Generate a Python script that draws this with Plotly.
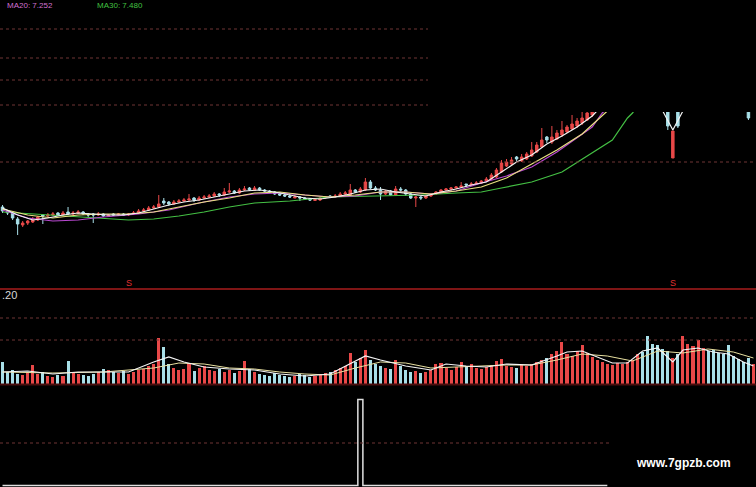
import plotly.graph_objects as go

# ---------------- data ----------------
opens = [9.3,8.9,8.7,8.1,7.5,7.7,7.8,8.0,8.5,8.4,8.5,8.7,8.5,8.8,8.6,8.7,8.8,8.6,8.6,8.5,
         8.6,8.4,8.6,8.5,8.6,8.5,8.6,8.7,8.9,9.0,9.2,9.3,9.9,9.8,9.6,9.8,9.9,10.0,10.2,10.0,
         10.2,10.3,10.4,10.6,10.5,10.8,10.9,10.7,11.0,11.2,11.0,11.2,11.0,10.9,10.8,10.6,10.5,10.4,10.2,10.3,
         10.2,10.1,9.95,10.0,10.2,10.4,10.3,10.4,10.6,10.5,11.0,10.8,11.0,11.8,11.2,11.0,10.6,10.9,10.5,11.1,
         11.0,10.6,10.2,10.3,10.2,10.4,10.6,10.8,11.0,11.1,11.2,11.3,11.6,11.5,11.6,11.7,11.9,12.1,12.3,12.8,
         13.4,13.6,14.3,13.9,14.1,14.4,14.8,15.3,16.3,15.8,16.1,16.5,16.8,17.1,17.4,17.7,18.0,18.5,19.2,19.8,
         20.5,21.2,21.8,22.5,23.0,23.6,24.0,24.5,24.2,23.5,22.0,20.5,19.2,14.2,19.5,19.8,20.6,21.0,21.4,22.0,
         22.3,22.0,21.6,21.2,20.8,20.4,20.0,19.6,19.3,19.0]
highs = [9.5,9.0,8.8,8.3,7.9,8.0,8.3,8.4,8.6,8.7,8.8,8.8,8.9,9.3,8.9,9.0,8.9,8.7,8.7,8.8,
         8.7,8.6,8.7,8.7,8.7,8.7,8.9,9.1,9.2,9.4,9.5,10.5,10.2,9.9,10.0,10.1,10.2,10.6,10.3,10.4,
         10.5,10.6,10.8,10.7,11.2,11.7,11.0,11.2,11.4,11.3,11.4,11.3,11.1,11.0,10.9,10.7,10.7,10.6,10.5,10.4,
         10.3,10.2,10.2,10.3,10.4,10.5,10.6,10.8,10.9,11.6,11.1,11.3,12.2,12.0,11.4,11.3,11.0,11.0,11.4,11.3,
         11.1,10.7,10.4,10.4,10.5,10.7,10.9,11.1,11.2,11.3,11.4,11.8,11.6,11.8,11.9,12.0,12.3,12.7,13.2,14.0,
         14.1,14.3,14.4,14.6,14.8,15.8,15.8,17.2,16.4,17.4,17.0,17.9,17.5,18.5,18.2,19.0,19.0,19.5,20.0,20.8,
         21.5,22.0,22.8,23.3,23.9,24.4,24.9,24.8,24.5,23.7,22.2,20.7,19.3,16.9,19.6,20.8,21.3,21.6,22.2,22.6,
         22.5,22.2,21.9,21.5,21.1,20.7,20.3,19.9,19.5,19.8]
lows = [8.7,8.5,8.0,6.5,7.3,7.5,7.7,7.9,7.6,8.3,8.4,8.4,8.4,8.5,8.5,8.6,8.5,8.3,7.7,8.4,
        8.3,8.3,8.4,8.4,8.4,8.4,8.5,8.6,8.8,8.9,9.1,9.2,9.5,9.4,9.5,9.7,9.8,9.9,9.8,9.9,
        10.1,10.2,10.3,10.3,10.4,10.7,10.6,10.6,10.9,10.9,10.9,10.9,10.8,10.7,10.5,10.4,10.3,10.2,10.2,9.9,
        10.0,9.9,9.9,9.9,10.1,10.2,10.2,10.3,10.5,10.4,10.7,10.7,10.9,11.1,10.9,10.0,10.5,10.4,10.4,10.8,
        10.4,10.1,9.3,10.0,10.1,10.3,10.5,10.7,10.9,10.9,11.1,11.2,11.3,11.4,11.5,11.6,11.8,12.0,12.2,12.7,
        13.3,13.5,13.8,13.8,14.0,14.3,14.7,15.2,15.7,15.6,16.0,16.3,16.7,17.0,17.2,17.5,17.9,18.3,19.0,19.6,
        20.3,20.9,21.5,22.2,22.7,23.2,23.7,23.9,23.2,21.8,20.3,19.0,17.0,14.2,17.2,19.6,20.4,20.7,21.2,21.7,
        21.8,21.4,21.0,20.6,20.2,19.8,19.4,19.1,18.0,18.9]
closes = [8.9,8.7,8.2,7.6,7.7,7.9,8.0,8.3,8.4,8.5,8.6,8.5,8.7,8.6,8.7,8.8,8.6,8.5,8.5,8.6,
          8.4,8.5,8.5,8.6,8.5,8.6,8.7,8.9,9.0,9.2,9.3,9.6,9.7,9.6,9.8,9.9,10.0,10.1,10.0,10.2,
          10.3,10.4,10.6,10.5,10.8,10.9,10.7,11.0,11.1,11.0,11.2,11.0,10.9,10.8,10.6,10.5,10.4,10.3,10.3,10.2,
          10.1,10.0,10.05,10.2,10.3,10.3,10.4,10.6,10.7,11.0,10.8,11.1,11.8,11.2,11.0,10.6,10.9,10.5,11.1,11.0,
          10.6,10.2,10.3,10.2,10.4,10.6,10.8,11.0,11.1,11.2,11.3,11.4,11.5,11.6,11.7,11.9,12.1,12.5,13.0,13.7,
          13.8,14.0,14.1,14.3,14.6,15.0,15.5,16.0,16.0,16.3,16.7,17.0,17.3,17.6,17.9,18.2,18.7,19.2,19.8,20.5,
          21.2,21.8,22.5,23.0,23.6,24.0,24.5,24.2,23.5,22.0,20.5,19.2,17.4,16.9,17.4,20.6,21.0,21.4,22.0,22.3,
          22.0,21.6,21.2,20.8,20.4,20.0,19.6,19.3,18.2,19.6]

volumes = [22,12,14,10,9,11,19,10,12,8,7,9,8,23,12,10,9,8,10,12,
           15,14,12,11,13,10,12,14,15,18,20,46,37,20,16,14,15,21,13,16,
           18,14,13,15,12,14,11,13,23,15,12,10,9,8,11,9,8,7,8,10,
           9,7,8,9,11,12,14,16,18,31,22,26,34,24,20,18,16,15,24,18,
           14,12,13,11,12,14,20,21,16,14,17,22,18,20,16,15,17,19,23,25,
           18,17,16,19,18,20,22,24,26,30,33,42,30,28,33,39,31,27,24,22,
           20,19,21,20,22,24,30,32,48,40,39,35,33,26,30,48,40,38,44,36,
           33,34,31,30,39,28,25,22,26,20]

# moving-average lines read at sparse points: (index, value)
ma5_idx = [0,3,6,9,12,15,18,21,24,27,30,33,36,39,42,45,48,51,54,57,60,63,66,69,72,75,78,81,84,87,90,93,96,99,102,105,108,111,114,117,120,123,126,129,131,133,135,137,140,143,146,149]
ma5_val = [9.2,8.5,8.0,8.2,8.5,8.7,8.6,8.5,8.5,8.7,9.1,9.5,9.8,10.0,10.3,10.6,10.9,11.0,10.8,10.5,10.2,10.1,10.3,10.6,11.0,11.1,10.8,10.6,10.4,10.8,11.1,11.5,11.8,12.8,13.8,14.5,15.6,16.4,17.3,18.4,20.0,21.8,23.3,22.5,18.9,17.0,18.9,20.5,21.5,21.3,20.5,19.5]
ma10_idx = [0,5,10,15,20,25,30,35,40,45,50,55,60,65,70,75,80,85,90,95,100,105,110,115,120,125,130,135,140,145,149]
ma10_val = [9.1,8.5,8.2,8.5,8.6,8.6,8.8,9.3,9.8,10.2,10.7,10.8,10.5,10.3,10.5,10.8,10.8,10.6,10.9,11.3,12.2,13.6,15.0,16.6,18.9,21.5,23.0,21.5,21.0,21.2,20.5]
ma20_idx = [0,5,10,15,20,27,33,39,45,50,55,60,65,70,75,80,85,90,95,100,105,110,115,117,119,125,130,135,140,145,149]
ma20_val = [9.0,8.2,7.9,8.0,8.3,8.6,9.0,9.7,10.3,10.6,10.7,10.5,10.3,10.4,10.8,10.8,10.6,10.9,11.7,12.4,13.3,14.8,16.6,17.3,18.7,21.5,22.8,22.6,22.0,21.8,21.2]
ma60_idx = [0,10,20,25,30,35,40,45,50,57,65,75,83,90,95,99,105,111,117,121,124,125,128,135,149]
ma60_val = [8.8,8.5,8.2,8.0,8.1,8.4,8.8,9.3,9.7,9.9,10.3,10.4,10.5,10.7,10.8,11.2,11.8,12.8,14.7,16.0,18.2,18.7,21.0,23.0,25.0]

vma5_idx = [0,5,10,15,20,25,30,33,36,40,45,50,55,60,65,68,72,75,80,85,88,92,96,100,105,110,112,115,118,121,124,127,130,133,135,138,141,144,147,149]
vma5_val = [12,13,10,12,12,12,22,27,22,17,15,14,10,8,10,18,28,24,18,14,20,18,17,20,19,28,32,33,27,21,21,33,36,22,34,36,32,30,22,18]
vma10_idx = [0,10,20,30,35,40,45,50,55,60,65,70,75,80,85,90,95,100,105,110,115,120,125,130,135,140,145,149]
vma10_val = [12,11,12,16,21,20,16,15,12,10,9,16,22,21,16,17,18,19,19,24,30,28,23,33,31,35,32,26]

indicator = [0.0] * 71 + [86.0] + [0.0] * 49
sig_idx = [25, 133]

N = len(closes)
xs = list(range(N))

# ---------------- figure ----------------
W, H = 756, 487
UP, DOWN = "#e84848", "#a8dfe8"

fig = go.Figure()
fig.add_trace(go.Candlestick(
    x=xs, open=opens, high=highs, low=lows, close=closes,
    increasing=dict(line=dict(color=UP, width=1), fillcolor=UP),
    decreasing=dict(line=dict(color=DOWN, width=1), fillcolor=DOWN),
    whiskerwidth=0, yaxis="y", xaxis="x", hoverinfo="skip", showlegend=False))

for idx, val, col in [(ma60_idx, ma60_val, "#44c044"), (ma20_idx, ma20_val, "#b848d0"),
                      (ma10_idx, ma10_val, "#e8e080"), (ma5_idx, ma5_val, "#f4f4f4")]:
    fig.add_trace(go.Scatter(x=idx, y=val, mode="lines", line=dict(color=col, width=1.2),
                             yaxis="y", hoverinfo="skip", showlegend=False))

vcols = [UP if c >= o else DOWN for o, c in zip(opens, closes)]
fig.add_trace(go.Bar(x=xs, y=volumes, marker=dict(color=vcols, line=dict(width=0)),
                     width=0.6, yaxis="y2", hoverinfo="skip", showlegend=False))
fig.add_trace(go.Scatter(x=vma10_idx, y=vma10_val, mode="lines", line=dict(color="#e8e0a0", width=1),
                         yaxis="y2", hoverinfo="skip", showlegend=False))
fig.add_trace(go.Scatter(x=vma5_idx, y=vma5_val, mode="lines", line=dict(color="#f4f4f4", width=1.2),
                         yaxis="y2", hoverinfo="skip", showlegend=False))

fig.add_trace(go.Scatter(x=list(range(len(indicator))), y=indicator, mode="lines",
                         line=dict(color="#e0e0e0", width=1.5, shape="hvh"),
                         yaxis="y3", hoverinfo="skip", showlegend=False))

def py(p):  # pixel row -> paper y
    return 1 - p / H

shapes = []
dot = dict(color="#6e3434", width=1, dash="dot")
for yp in [29, 58, 80, 105]:
    shapes.append(dict(type="line", xref="paper", yref="paper", x0=0, x1=428 / W, y0=py(yp), y1=py(yp), line=dot))
for yp in [162, 318, 340]:
    shapes.append(dict(type="line", xref="paper", yref="paper", x0=0, x1=1, y0=py(yp), y1=py(yp), line=dot))
shapes.append(dict(type="line", xref="paper", yref="paper", x0=0, x1=610 / W, y0=py(443), y1=py(443), line=dot))
shapes.append(dict(type="line", xref="paper", yref="paper", x0=0, x1=1, y0=py(289), y1=py(289),
                   line=dict(color="#a81c1c", width=1.5)))
shapes.append(dict(type="line", xref="paper", yref="paper", x0=0, x1=1, y0=py(384.5), y1=py(384.5),
                   line=dict(color="#4a0e0e", width=2)))
shapes.append(dict(type="rect", xref="paper", yref="paper", x0=428 / W, x1=1.01, y0=py(112), y1=1.01,
                   fillcolor="black", line=dict(width=0), layer="above"))

annotations = [
    dict(xref="paper", yref="paper", x=0.006, y=1, xanchor="left", yanchor="top", yshift=1,
         text="MA20: 7.252", showarrow=False, font=dict(color="#d070d0", size=8, family="Liberation Sans")),
    dict(xref="paper", yref="paper", x=0.126, y=1, xanchor="left", yanchor="top", yshift=1,
         text="MA30: 7.480", showarrow=False, font=dict(color="#40c040", size=8, family="Liberation Sans")),
    dict(xref="paper", yref="paper", x=0, y=py(295), xanchor="left", yanchor="middle",
         text=".20", showarrow=False, font=dict(color="#d8d8d8", size=11, family="Liberation Sans")),
    dict(xref="paper", yref="paper", x=683 / W, y=py(463), xanchor="center", yanchor="middle",
         text="<b>www.7gpzb.com</b>", showarrow=False, font=dict(color="#ffffff", size=12, family="Liberation Sans")),
]
for si in sig_idx:
    annotations.append(dict(xref="x", yref="paper", x=si, y=py(283), xanchor="center", yanchor="middle",
                            text="S", showarrow=False, font=dict(color="#e03030", size=9, family="Liberation Sans")))

hidden = dict(visible=False, showgrid=False, zeroline=False, fixedrange=True)
fig.update_layout(
    width=W, height=H, margin=dict(l=0, r=0, t=0, b=0),
    paper_bgcolor="black", plot_bgcolor="black", showlegend=False, bargap=0,
    xaxis=dict(range=[-0.5, N - 0.5], domain=[0, 1], rangeslider=dict(visible=False), **hidden),
    yaxis=dict(domain=[py(288), 1], range=[1.2, 30], **hidden),
    yaxis2=dict(domain=[py(384), py(290)], range=[0, 94], anchor="x", **hidden),
    yaxis3=dict(domain=[0, py(385)], range=[-1.5, 100.5], anchor="x", **hidden),
    shapes=shapes, annotations=annotations,
)

fig.write_html("out.html", config={"displayModeBar": False},
               post_script="document.body.style.margin='0';document.body.style.background='black';")
